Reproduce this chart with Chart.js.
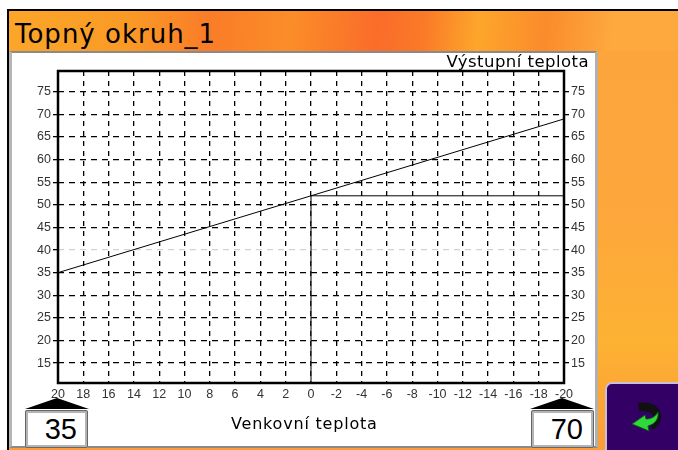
<!DOCTYPE html>
<html>
<head>
<meta charset="utf-8">
<title>Topný okruh_1</title>
<script src="https://cdn.jsdelivr.net/npm/chart.js@4/dist/chart.umd.min.js"></script>
<style>
  html, body { margin: 0; padding: 0; background: #fff; }
  #screen { position: relative; width: 678px; height: 450px; overflow: hidden; font-family: "Liberation Sans", Arial, sans-serif; }
  #screen div, #screen svg, #screen canvas { position: absolute; }
  #backdrop { left: 7px; top: 9px; right: 0; bottom: 0; border-top: 2px solid #000; border-left: 2px solid #000;
    background: linear-gradient(180deg, #fca53d 0%, #fda63c 45%, #fdb233 75%, #fb9c38 100%); }
  #header { left: 9px; top: 11px; width: 669px; height: 40px;
    background: linear-gradient(95deg, #fba629 0%, #fa9a26 18%, #fa7c28 30%, #fb8d28 42%, #fa6c2a 55%, #fa7a28 62%, #fda62b 70%, #fb8b2c 80%, #fda93e 90%, #fda93e 100%); }
  #title { left: 15px; top: 18px; font-family: "DejaVu Sans", sans-serif; font-size: 26px; line-height: 32px; color: #000; letter-spacing: 1px; white-space: nowrap; }
  #panel { left: 9px; top: 51px; width: 589px; height: 397px; background: #fff; box-sizing: border-box;
    border: 2px solid #8a8a8a; border-left: 3px solid #b5b5b5; border-right: 3px solid #b0b0b0; border-top-right-radius: 3px; }
  #chart { left: 0; top: 0; }
  #yTitle { right: 89px; top: 52px; font-family: "DejaVu Sans", sans-serif; font-size: 16.5px; line-height: 20px; color: #000; letter-spacing: 0.45px; white-space: nowrap; }
  #xTitle { left: 231px; top: 415px; font-family: "DejaVu Sans", sans-serif; font-size: 16px; line-height: 18px; color: #000; letter-spacing: 0.8px; white-space: nowrap; }
  .valueBox { width: 63px; height: 38px; top: 410px; box-sizing: border-box; background: #fff; border: 3px solid #b4b4b4;
    outline: 1px solid #666; outline-offset: -1px; border-radius: 2px; font-size: 29px; line-height: 32px; color: #000; text-align: right; padding-right: 8px; }
  .marker { width: 64px; height: 11px; top: 398px; }
  #button { left: 605px; top: 382px; width: 80px; height: 75px; background: #330066; border: 2px solid #c9bfd6; border-radius: 7px; box-sizing: border-box; }
</style>
</head>
<body>
<div id="screen">
  <div id="backdrop"></div>
  <div id="header"></div>
  <div id="title">Topný okruh_1</div>
  <div id="panel"></div>
  <canvas id="chart" width="678" height="450"></canvas>
  <div id="yTitle">Výstupní teplota</div>
  <div id="xTitle">Venkovní teplota</div>
  <svg class="marker" style="left:25px" viewBox="0 0 64 11"><polygon points="0,11 32,0 64,11" fill="#000"/></svg>
  <svg class="marker" style="left:530px" viewBox="0 0 64 11"><polygon points="0,11 32,0 64,11" fill="#000"/></svg>
  <div class="valueBox" id="boxLow" style="left:25px"></div>
  <div class="valueBox" id="boxHigh" style="left:531px"></div>
  <div id="button"></div>
  <svg style="left:630px;top:400px" width="36" height="36" viewBox="0 0 36 36">
    <path d="M8 3 C20 1 30 6 31 15 C32 22 27 28 22 30 L20 23 C23 21 24 17 22 14 C19 11 13 11 9 11 Z" fill="#111"/>
    <path d="M2 24 L15 15 L16 19 C21 19 25 17 28 12 C29 19 25 24 18 26 L19 31 Z" fill="#2fd93a" stroke="#0c5a18" stroke-width="1"/>
  </svg>
</div>
<script>
// values
const curveX = [20, 0, -20]
const curveY = [35, 52, 69]
const setpointX = [0, -20]
const setpointY = [52, 52]
const dropX = [0, 0]
const dropY = [10.6, 52]
const xTicks = [20, 18, 16, 14, 12, 10, 8, 6, 4, 2, 0, -2, -4, -6, -8, -10, -12, -14, -16, -18, -20]
const yTicks = [15, 20, 25, 30, 35, 40, 45, 50, 55, 60, 65, 70, 75]
const lowValue = 35
const highValue = 70

document.getElementById('boxLow').textContent = lowValue
document.getElementById('boxHigh').textContent = highValue

const toPoints = (xs, ys) => xs.map((x, i) => ({ x: x, y: ys[i] }))

const plotFrame = {
  id: 'plotFrame',
  afterDatasetsDraw: (chart) => {
    const { ctx, chartArea } = chart
    ctx.save()
    ctx.strokeStyle = '#000'
    ctx.lineWidth = 2.5
    ctx.strokeRect(chartArea.left, chartArea.top, chartArea.right - chartArea.left, chartArea.bottom - chartArea.top)
    ctx.restore()
  },
}

const tickFont = { family: '"Liberation Sans", Arial, sans-serif', size: 12.5 }
const tickColor = '#333'

const yAxis = (position, width, showGrid) => ({
  type: 'linear',
  position: position,
  min: 10.6,
  max: 79.6,
  afterBuildTicks: (axis) => {
    axis.ticks = yTicks.map((v) => ({ value: v }))
  },
  afterFit: (axis) => {
    axis.width = width
  },
  border: { display: false, dash: [6, 5] },
  grid: {
    display: true,
    drawOnChartArea: showGrid,
    drawTicks: true,
    tickLength: 5,
    tickColor: '#000',
    color: (c) => (c.tick && c.tick.value === 40 ? '#d2d2d2' : '#000'),
    lineWidth: 1.3,
  },
  ticks: { autoSkip: false, padding: 2, font: tickFont, color: tickColor },
})

new Chart(document.getElementById('chart'), {
  type: 'line',
  data: {
    datasets: [
      { data: toPoints(curveX, curveY), borderColor: '#000', borderWidth: 1, pointRadius: 0, tension: 0 },
      { data: toPoints(setpointX, setpointY), borderColor: '#000', borderWidth: 1, pointRadius: 0, tension: 0 },
      { data: toPoints(dropX, dropY), borderColor: '#222', borderWidth: 1.2, pointRadius: 0, tension: 0 },
    ],
  },
  options: {
    responsive: false,
    animation: false,
    layout: { padding: { top: 71, left: 0, right: 0, bottom: 0 } },
    plugins: { legend: { display: false }, tooltip: { enabled: false } },
    scales: {
      x: {
        type: 'linear',
        reverse: true,
        min: -20,
        max: 20,
        afterBuildTicks: (axis) => {
          axis.ticks = xTicks.map((v) => ({ value: v }))
        },
        afterFit: (axis) => {
          axis.height = 67
        },
        border: { display: false, dash: [5, 5] },
        grid: { color: '#000', lineWidth: 1.3, drawTicks: false },
        ticks: { autoSkip: false, maxRotation: 0, padding: 4, font: tickFont, color: tickColor },
      },
      y: yAxis('left', 58, true),
      y2: yAxis('right', 114, false),
    },
  },
  plugins: [plotFrame],
})
</script>
</body>
</html>
